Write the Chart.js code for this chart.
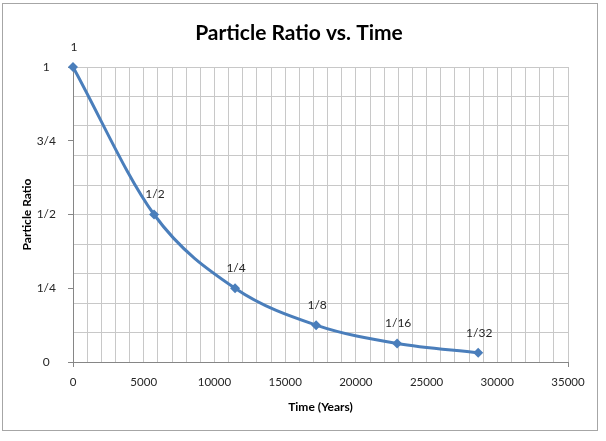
<!DOCTYPE html>
<html>
<head>
<meta charset="utf-8">
<script src="https://cdn.jsdelivr.net/npm/chart.js@4"></script>
<style>
  html, body { margin: 0; padding: 0; background: #fff; }
  #wrap { position: absolute; left: 0; top: 0; width: 606px; height: 441px; }
  #frame { position: absolute; left: 2px; top: 3px; width: 594px; height: 426px; border: 1px solid #a6a6a6; pointer-events: none; }
</style>
</head>
<body>
<div id="wrap"><canvas id="chart" width="606" height="441"></canvas></div>
<div id="frame"></div>
<script>
// half-life data, C-14 (5730 yr)
const years = [0, 5730, 11460, 17190, 22920, 28650];
const ratios = [1, 0.5, 0.25, 0.125, 0.0625, 0.03125];
const pointLabels = ['1', '1/2', '1/4', '1/8', '1/16', '1/32'];

// y: gridlines every 0.1, labels only at quarters
const yGridValues = [0, 0.1, 0.2, 0.3, 0.4, 0.5, 0.6, 0.7, 0.8, 0.9, 1];
const yLabelValues = [0, 0.25, 0.5, 0.75, 1];
const yLabels = ['0', '1/4', '1/2', '3/4', '1'];

const FONT = 'Lato, "Open Sans", sans-serif';
const BLUE = '#4a7ebb';
const GRID = '#c8c8c8';
const AXIS = '#868686';

const near = (a, b) => Math.abs(a - b) < 1e-6;
const isGrid = (v) => yGridValues.some((g) => near(g, v));
const isLabel = (v) => yLabelValues.some((g) => near(g, v));

// labels above each point
const pointLabelPlugin = {
  id: 'pointLabels',
  afterDatasetsDraw(chart) {
    const { ctx } = chart;
    const meta = chart.getDatasetMeta(0);
    ctx.save();
    ctx.font = `12px ${FONT}`;
    ctx.fillStyle = '#262626';
    ctx.textAlign = 'center';
    ctx.textBaseline = 'middle';
    meta.data.forEach((pt, i) => ctx.fillText(pointLabels[i], pt.x + 1, pt.y - 20));
    ctx.restore();
  },
};

new Chart(document.getElementById('chart'), {
  type: 'line',
  data: {
    datasets: [{
      data: years.map((x, i) => ({ x, y: ratios[i] })),
      borderColor: BLUE,
      backgroundColor: BLUE,
      borderWidth: 3,
      cubicInterpolationMode: 'monotone',
      pointStyle: 'rectRot',
      pointRadius: 5,
      pointBorderWidth: 0,
      clip: false,
    }],
  },
  options: {
    responsive: false,
    animation: false,
    // left padding 30 so the chart title centres near x=299 like the original
    layout: { padding: { left: 30, right: 38, top: 0, bottom: 11 } },
    plugins: {
      legend: { display: false },
      tooltip: { enabled: false },
      title: {
        display: true,
        text: 'Particle Ratio vs. Time',
        color: '#000',
        font: { family: FONT, size: 21, weight: 'bold', lineHeight: 1.2 },
        padding: { top: 21, bottom: 20.8 },
      },
    },
    scales: {
      x: {
        type: 'linear',
        min: 0, max: 35000,
        afterFit: (s) => { s.height = 68; },
        ticks: {
          stepSize: 1000, autoSkip: false, maxRotation: 0, padding: 8,
          color: '#262626', font: { family: FONT, size: 11.5 },
          callback: (v) => (v % 5000 === 0 ? String(v) : ''),
        },
        grid: {
          color: GRID, lineWidth: 1, tickLength: 5,
          tickColor: (c) => (c.tick && (c.tick.value === 0 || c.tick.value === 35000) ? AXIS : 'transparent'),
        },
        border: { color: AXIS, width: 1 },
        title: {
          display: true, text: 'Time (Years)', color: '#000',
          font: { family: FONT, size: 12, weight: 'bold', lineHeight: 1.2 },
          padding: { top: 0, bottom: 16 },
        },
      },
      y: {
        type: 'linear',
        min: 0, max: 1,
        afterFit: (s) => { s.width = 43; },
        afterBuildTicks: (s) => {
          const vals = [...new Set([...yGridValues, ...yLabelValues])].sort((a, b) => a - b);
          s.ticks = vals.map((value) => ({ value }));
        },
        ticks: {
          autoSkip: false, padding: 12, crossAlign: 'center',
          color: '#262626', font: { family: FONT, size: 12 },
          callback: (v) => {
            const i = yLabelValues.findIndex((g) => near(g, v));
            return i >= 0 ? yLabels[i] : '';
          },
        },
        grid: {
          lineWidth: 1, tickLength: 5,
          color: (c) => (c.tick && isGrid(c.tick.value) ? GRID : 'transparent'),
          tickColor: (c) => (c.tick && isLabel(c.tick.value) ? AXIS : 'transparent'),
        },
        border: { color: AXIS, width: 1 },
        title: {
          display: true, text: 'Particle Ratio', color: '#000',
          font: { family: FONT, size: 12, weight: 'bold', lineHeight: 1.2 },
          padding: { top: -10.5, bottom: 0 },
        },
      },
    },
  },
  plugins: [pointLabelPlugin],
});
</script>
</body>
</html>
